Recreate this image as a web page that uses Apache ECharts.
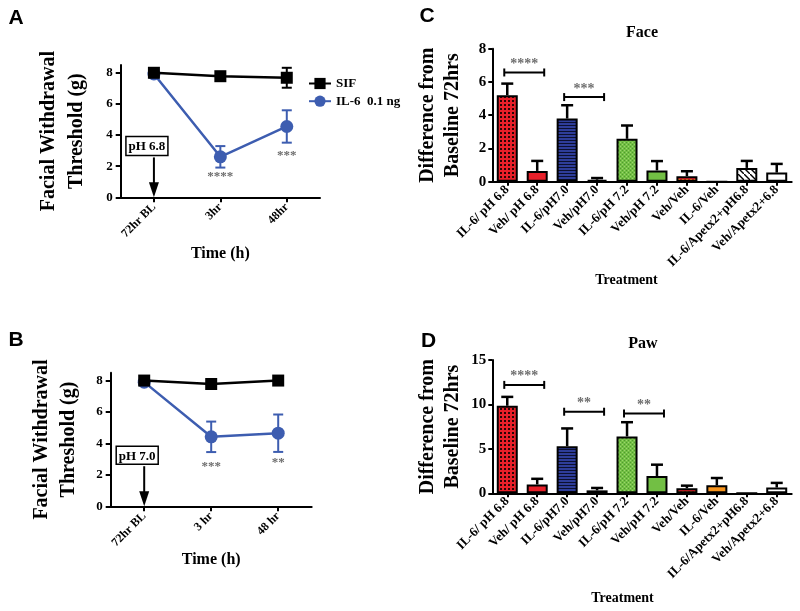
<!DOCTYPE html>
<html><head><meta charset="utf-8">
<script src="https://cdn.jsdelivr.net/npm/echarts@6/dist/echarts.min.js"></script>
<style>html,body{margin:0;padding:0;background:#fff}#c{width:800px;height:611px}</style>
</head><body><div id="c"></div>
<script>
// ---------------- data ----------------
const timeCatsA = ['72hr BL', '3hr', '48hr'];
const timeCatsB = ['72hr BL', '3 hr', '48 hr'];
const sifA = [8.0, 7.78, 7.68];
const sifAErr = [0, 0, 0.64];
const il6A = [7.92, 2.6, 4.55];
const il6AErr = [0, 0.69, 1.04];
const sifB = [8.0, 7.78, 8.0];
const sifBErr = [0, 0, 0];
const il6B = [7.9, 4.42, 4.65];
const il6BErr = [0, 0.97, 1.19];
const sigA = [[1, 1.3, '****'], [2, 2.65, '***']];
const sigB = [[1, 2.5, '***'], [2, 2.8, '**']];
const pHA = [0, 3.3, 'pH 6.8'];
const pHB = [0, 3.25, 'pH 7.0'];
const lineYTicks = [0, 2, 4, 6, 8];

const treatments = ['IL-6/ pH 6.8', 'Veh/ pH 6.8', 'IL-6/pH7.0', 'Veh/pH7.0', 'IL-6/pH 7.2',
  'Veh/pH 7.2', 'Veh/Veh', 'IL-6/Veh', 'IL-6/Apetx2+pH6.8', 'Veh/Apetx2+6.8'];
const faceMean = [5.2, 0.65, 3.8, 0.12, 2.58, 0.68, 0.33, 0, 0.83, 0.55];
const faceErr  = [0.7, 0.6, 0.8, 0.1, 0.8, 0.56, 0.3, 0, 0.42, 0.52];
const pawMean  = [9.85, 1.0, 5.3, 0.33, 6.4, 1.95, 0.58, 0.9, 0, 0.65];
const pawErr   = [1.0, 0.63, 2.0, 0.27, 1.6, 1.27, 0.28, 0.82, 0, 0.52];
const sigFace = [[0, 1, 6.57, '****'], [2, 3, 5.09, '***']];
const sigPaw  = [[0, 1, 12.2, '****'], [2, 3, 9.18, '**'], [4, 5, 8.98, '**']];
const faceYTicks = [0, 2, 4, 6, 8];
const pawYTicks = [0, 5, 10, 15];

// ---------------- styles ----------------
const SERIF = 'Liberation Serif';
const RED = '#e8202a', BLUE = '#2e3d9a', GREEN = '#72bf44', ORANGE = '#f7941d', LBLUE = '#3d5db0';
function pat(w, h, draw) {
  const c = document.createElement('canvas'); c.width = w; c.height = h;
  const g = c.getContext('2d'); draw(g); return { image: c, repeat: 'repeat' };
}
const fills = [
  pat(4, 4, g => { g.fillStyle = RED; g.fillRect(0, 0, 4, 4); g.fillStyle = '#2a0405'; g.fillRect(0, 0, 2, 2); }),
  RED,
  pat(4, 3, g => { g.fillStyle = BLUE; g.fillRect(0, 0, 4, 3); g.fillStyle = '#0c1030'; g.fillRect(0, 2, 4, 1); }),
  pat(4, 3, g => { g.fillStyle = BLUE; g.fillRect(0, 0, 4, 3); g.fillStyle = '#0c1030'; g.fillRect(0, 2, 4, 1); }),
  pat(4, 4, g => { g.fillStyle = GREEN; g.fillRect(0, 0, 4, 4); g.fillStyle = '#4f9a2e'; g.fillRect(0, 0, 1, 1); g.fillRect(2, 2, 1, 1); g.fillStyle = '#9ad66c'; g.fillRect(2, 0, 1, 1); g.fillRect(0, 2, 1, 1); }),
  GREEN,
  pat(4, 4, g => { g.fillStyle = RED; g.fillRect(0, 0, 4, 4); g.fillStyle = ORANGE; g.fillRect(0, 1, 2, 1); g.fillRect(2, 3, 2, 1); }),
  ORANGE,
  pat(6, 6, g => { g.fillStyle = '#fff'; g.fillRect(0, 0, 6, 6); g.strokeStyle = '#000'; g.lineWidth = 1.4; g.beginPath(); g.moveTo(-1, -1); g.lineTo(7, 7); g.stroke(); }),
  '#fff'
];

const axisLineS = { show: true, lineStyle: { color: '#000', width: 2 } };
const tickS = len => ({ show: true, length: len, lineStyle: { color: '#000', width: 2 } });
const lbl = size => ({ color: '#000', fontFamily: SERIF, fontWeight: 'bold', fontSize: size });

function errSeries(xi, yi, means, errs, color, capW, lw, upOnly, z) {
  return {
    type: 'custom', xAxisIndex: xi, yAxisIndex: yi, z: z, silent: true,
    data: means.map((m, i) => [i, m, errs[i]]), encode: { x: 0, y: 1 },
    renderItem: (p, api) => {
      const i = api.value(0), m = api.value(1), e = api.value(2);
      if (!(e > 0)) return null;
      const top = api.coord([i, m + e]), bot = api.coord([i, upOnly ? m : m - e]);
      const st = { stroke: color, lineWidth: lw };
      const ch = [
        { type: 'line', shape: { x1: top[0], y1: top[1], x2: bot[0], y2: bot[1] }, style: st },
        { type: 'line', shape: { x1: top[0] - capW / 2, y1: top[1], x2: top[0] + capW / 2, y2: top[1] }, style: st }
      ];
      if (!upOnly) ch.push({ type: 'line', shape: { x1: bot[0] - capW / 2, y1: bot[1], x2: bot[0] + capW / 2, y2: bot[1] }, style: st });
      return { type: 'group', children: ch };
    }
  };
}
function starSeries(xi, yi, items) {
  return {
    type: 'custom', xAxisIndex: xi, yAxisIndex: yi, z: 6, silent: true,
    data: items.map(d => [d[0], d[1]]), encode: { x: 0, y: 1 },
    renderItem: (p, api) => {
      const pt = api.coord([api.value(0), api.value(1)]);
      return { type: 'text', style: { x: pt[0], y: pt[1], text: items[p.dataIndex][2], align: 'center', verticalAlign: 'middle',
        font: 'bold 13px "Liberation Serif"', fill: '#6d6d6d' } };
    }
  };
}
function phSeries(xi, yi, item, boxH) {
  return {
    type: 'custom', xAxisIndex: xi, yAxisIndex: yi, z: 6, silent: true,
    data: [[item[0], item[1]]], encode: { x: 0, y: 1 },
    renderItem: (p, api) => {
      const pt = api.coord([api.value(0), api.value(1)]);
      const zero = api.coord([api.value(0), 0]);
      const cx = pt[0] - 7, w = 42, h = boxH;
      const shaftTop = pt[1] + h / 2 + 2, headTop = zero[1] - 15;
      return { type: 'group', children: [
        { type: 'rect', shape: { x: cx - w / 2, y: pt[1] - h / 2, width: w, height: h }, style: { fill: '#fff', stroke: '#000', lineWidth: 1.5 } },
        { type: 'text', style: { x: cx, y: pt[1] + 1, text: item[2], align: 'center', verticalAlign: 'middle', font: 'bold 13px "Liberation Serif"', fill: '#000' } },
        { type: 'line', shape: { x1: pt[0], y1: shaftTop, x2: pt[0], y2: headTop + 2 }, style: { stroke: '#000', lineWidth: 2 } },
        { type: 'polygon', shape: { points: [[pt[0] - 5, headTop], [pt[0] + 5, headTop], [pt[0], zero[1]]] }, style: { fill: '#000' } }
      ] };
    }
  };
}
function bracketSeries(xi, yi, items) {
  return {
    type: 'custom', xAxisIndex: xi, yAxisIndex: yi, z: 6, silent: true,
    data: items.map(d => [d[0], d[1], d[2]]), encode: { x: 0, y: 2 },
    renderItem: (p, api) => {
      const a = api.coord([api.value(0), api.value(2)]), b = api.coord([api.value(1), api.value(2)]);
      const x1 = a[0] - 3, x2 = b[0] + 7, y = a[1];
      const st = { stroke: '#000', lineWidth: 2 };
      return { type: 'group', children: [
        { type: 'line', shape: { x1: x1, y1: y, x2: x2, y2: y }, style: st },
        { type: 'line', shape: { x1: x1, y1: y - 4, x2: x1, y2: y + 4 }, style: st },
        { type: 'line', shape: { x1: x2, y1: y - 4, x2: x2, y2: y + 4 }, style: st },
        { type: 'text', style: { x: (x1 + x2) / 2, y: y - 8, text: items[p.dataIndex][3], align: 'center', verticalAlign: 'middle',
          font: 'bold 14px "Liberation Serif"', fill: '#6d6d6d' } }
      ] };
    }
  };
}

function lineX(gi, cats, gap) {
  return { type: 'category', gridIndex: gi, data: cats, boundaryGap: true, axisLine: axisLineS,
    axisTick: Object.assign(tickS(5), { alignWithLabel: true }),
    axisLabel: Object.assign(lbl(12), { rotate: 45, margin: 8, interval: 0 }),
    name: 'Time (h)', nameLocation: 'middle', nameGap: gap, nameTextStyle: lbl(16) };
}
function lineY(gi, gap, lh) {
  return { type: 'value', gridIndex: gi, min: 0, max: 8.5, axisLine: axisLineS, splitLine: { show: false },
    axisTick: Object.assign(tickS(5), { customValues: lineYTicks }),
    axisLabel: Object.assign(lbl(13), { customValues: lineYTicks, margin: 8 }),
    name: 'Facial Withdrawal\nThreshold (g)', nameLocation: 'middle', nameGap: gap, nameRotate: 90,
    nameTextStyle: Object.assign(lbl(20), { lineHeight: lh }) };
}
function barX(gi, gap, padR) {
  return { type: 'category', gridIndex: gi, data: treatments, boundaryGap: true, axisLine: axisLineS,
    axisTick: Object.assign(tickS(4), { alignWithLabel: true }),
    axisLabel: Object.assign(lbl(13), { rotate: 45, margin: 6, interval: 0 }),
    name: 'Treatment', nameLocation: 'middle', nameGap: gap, nameTextStyle: Object.assign(lbl(14), { padding: [0, padR, 0, 0] }) };
}
function barY(gi, max, ticks) {
  return { type: 'value', gridIndex: gi, min: 0, max: max, axisLine: axisLineS, splitLine: { show: false },
    axisTick: Object.assign(tickS(4), { customValues: ticks }),
    axisLabel: Object.assign(lbl(15), { customValues: ticks, margin: 6 }),
    name: 'Difference from\nBaseline 72hrs', nameLocation: 'middle', nameGap: 27, nameRotate: 90,
    nameTextStyle: Object.assign(lbl(20), { lineHeight: 25 }) };
}
function barSeries(xi, yi, means) {
  return { type: 'bar', xAxisIndex: xi, yAxisIndex: yi, barWidth: 21, z: 3,
    data: means.map((v, i) => ({ value: v, itemStyle: { color: fills[i] } })),
    itemStyle: { borderColor: '#000', borderWidth: 2 } };
}
function lineSeries(xi, yi, name, data, color, symbol, size, z) {
  return { type: 'line', name: name, xAxisIndex: xi, yAxisIndex: yi, data: data, symbol: symbol, symbolSize: size, z: z,
    lineStyle: { color: color, width: 2.5 }, itemStyle: { color: color }, animation: false };
}

const txt = (x, y, t, font) => ({ type: 'text', x: x, y: y, style: { text: t, align: 'center', verticalAlign: 'middle', font: font, fill: '#000' } });

const option = {
  animation: false,
  backgroundColor: '#fff',
  grid: [
    { left: 120.7, top: 65, width: 199.3, height: 132.3 },
    { left: 110.7, top: 372.7, width: 201, height: 133.6 },
    { left: 492.3, top: 48.7, width: 299.4, height: 133 },
    { left: 492.3, top: 360, width: 299.4, height: 133.3 }
  ],
  xAxis: [lineX(0, timeCatsA, 49), lineX(1, timeCatsB, 45), barX(2, 92, 31), barX(3, 98, 39)],
  yAxis: [lineY(0, 30, 28), lineY(1, 28, 27), barY(2, 8, faceYTicks), barY(3, 15, pawYTicks)],
  legend: {
    data: ['SIF', 'IL-6  0.1 ng'], orient: 'vertical', left: 303, top: 72, itemWidth: 22, itemHeight: 14, itemGap: 4.7,
    textStyle: lbl(13), selectedMode: false
  },
  graphic: [
    txt(16, 18, 'A', 'bold 21px "Liberation Sans"'),
    txt(16, 340, 'B', 'bold 21px "Liberation Sans"'),
    txt(427, 16, 'C', 'bold 21px "Liberation Sans"'),
    txt(428.5, 341, 'D', 'bold 21px "Liberation Sans"'),
    txt(642, 33, 'Face', 'bold 16px "Liberation Serif"'),
    txt(643, 344, 'Paw', 'bold 16px "Liberation Serif"')
  ],
  series: [
    errSeries(0, 0, sifA, sifAErr, '#000', 10, 2, false, 1),
    errSeries(0, 0, il6A, il6AErr, LBLUE, 10, 2, false, 1),
    lineSeries(0, 0, 'IL-6  0.1 ng', il6A, LBLUE, 'circle', 13, 2),
    lineSeries(0, 0, 'SIF', sifA, '#000', 'rect', 12, 3),
    starSeries(0, 0, sigA),
    phSeries(0, 0, pHA, 19),

    errSeries(1, 1, sifB, sifBErr, '#000', 10, 2, false, 1),
    errSeries(1, 1, il6B, il6BErr, LBLUE, 10, 2, false, 1),
    lineSeries(1, 1, 'IL-6  0.1 ng', il6B, LBLUE, 'circle', 13, 2),
    lineSeries(1, 1, 'SIF', sifB, '#000', 'rect', 12, 3),
    starSeries(1, 1, sigB),
    phSeries(1, 1, pHB, 18),

    errSeries(2, 2, faceMean, faceErr, '#000', 12, 2.5, true, 4),
    barSeries(2, 2, faceMean),
    bracketSeries(2, 2, sigFace),

    errSeries(3, 3, pawMean, pawErr, '#000', 12, 2.5, true, 4),
    barSeries(3, 3, pawMean),
    bracketSeries(3, 3, sigPaw)
  ]
};
const chart = echarts.init(document.getElementById('c'), null, { renderer: 'canvas' });
chart.setOption(option);
</script>
</body></html>
